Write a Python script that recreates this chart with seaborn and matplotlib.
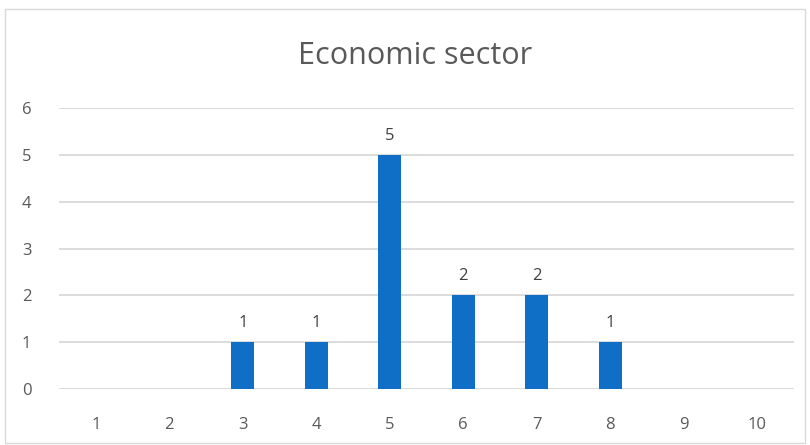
import pandas as pd
import matplotlib.pyplot as plt
import seaborn as sns
from matplotlib.patches import Rectangle

categories = ["1", "2", "3", "4", "5", "6", "7", "8", "9", "10"]
counts = [0, 0, 1, 1, 5, 2, 2, 1, 0, 0]

data = pd.DataFrame({"sector": categories, "count": counts})

sns.set_style("white")
plt.rcParams["font.family"] = ["Open Sans", "DejaVu Sans"]

fig = plt.figure(figsize=(8.1, 4.45), dpi=100)
ax = fig.add_axes([0.073, 0.126, 0.907, 0.631])

sns.barplot(data=data, x="sector", y="count", color="#0F6FC6", width=0.31,
            saturation=1, linewidth=0, ax=ax, zorder=3)

ax.set_ylim(0, 6)
ax.set_yticks(range(0, 7))
ax.set_xlim(-0.5, 9.5)
ax.grid(axis="y", color="#D9D9D9", linewidth=1.3, zorder=0)
for s in ax.spines.values():
    s.set_visible(False)
ax.tick_params(axis="both", length=0, labelsize=12, colors="#595959")
ax.tick_params(axis="x", pad=20)
ax.tick_params(axis="y", pad=20)
ax.set_xlabel("")
ax.set_ylabel("")

labels = [str(v) if v > 0 else "" for v in counts]
ax.bar_label(ax.containers[0], labels=labels, padding=8, fontsize=12, color="#404040")

fig.text(0.513, 0.875, "Economic sector", ha="center", va="center",
         fontsize=22, color="#595959")

fig.patches.append(Rectangle((0.006, 0.005), 0.988, 0.975, transform=fig.transFigure,
                             fill=False, edgecolor="#D9D9D9", linewidth=1))

fig.savefig("out.png", dpi=100)
